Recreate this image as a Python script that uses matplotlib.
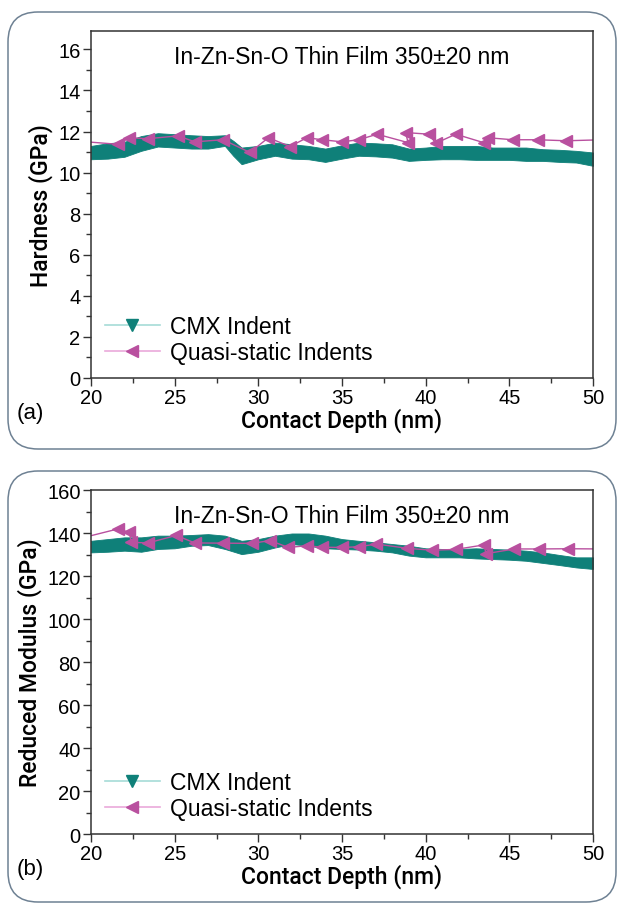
import matplotlib
matplotlib.use("Agg")
import matplotlib.pyplot as plt
from matplotlib.patches import FancyBboxPatch
from matplotlib.lines import Line2D
from matplotlib.ticker import MultipleLocator

plt.rcParams['font.family'] = ['Liberation Sans', 'DejaVu Sans']

# --- data ---
title = "In-Zn-Sn-O Thin Film 350\u00b120 nm"

# hardness, CMX band (upper / lower edge of the noisy trace)
h_cmx_x = [20, 21, 22, 23, 24, 25, 26, 27, 28, 28.5, 29, 30, 31, 32, 33, 34, 35,
           36, 37, 38, 39, 40, 41, 42, 43, 44, 45, 46, 47, 48, 49, 50]
h_cmx_hi = [11.30, 11.43, 11.50, 11.78, 11.92, 11.87, 11.82, 11.78, 11.82, 11.55, 11.22,
            11.30, 11.46, 11.38, 11.30, 11.17, 11.33, 11.46, 11.43, 11.38, 11.17, 11.22,
            11.30, 11.30, 11.30, 11.22, 11.22, 11.22, 11.14, 11.11, 11.06, 10.98]
h_cmx_lo = [10.65, 10.68, 10.77, 11.06, 11.27, 11.22, 11.17, 11.17, 11.30, 10.82, 10.41,
            10.65, 10.82, 10.68, 10.65, 10.52, 10.68, 10.82, 10.79, 10.73, 10.57, 10.62,
            10.65, 10.65, 10.62, 10.62, 10.62, 10.57, 10.57, 10.52, 10.49, 10.33]

# hardness, quasi-static indents
h_qs_x = [19.4, 21.6, 22.3, 23.4, 25.2, 26.2, 27.9, 29.5, 30.6, 31.9, 32.9, 33.8, 35.0,
          36.0, 37.1, 38.95, 38.8, 40.2, 40.6, 41.8, 43.5, 43.7, 45.2, 46.7, 48.4, 50.6]
h_qs_y = [11.52, 11.38, 11.70, 11.65, 11.79, 11.50, 11.60, 10.98, 11.70, 11.27, 11.70,
          11.60, 11.50, 11.60, 11.87, 11.46, 11.95, 11.87, 11.43, 11.87, 11.45, 11.70,
          11.60, 11.60, 11.55, 11.60]

# reduced modulus, CMX band
m_cmx_x = list(range(20, 51))
m_cmx_hi = [136.4, 137.2, 138.0, 138.0, 138.8, 138.8, 139.1, 139.5, 138.8, 136.4, 137.2,
            138.8, 139.8, 139.8, 138.8, 137.2, 136.4, 135.7, 134.9, 134.1, 132.9, 132.6,
            132.6, 132.9, 132.6, 132.3, 131.8, 131.0, 129.8, 128.7, 128.7]
m_cmx_lo = [131.0, 131.3, 131.8, 131.3, 132.6, 132.9, 134.1, 134.4, 132.6, 130.2, 131.3,
            133.3, 134.9, 134.1, 132.9, 132.6, 132.3, 131.8, 131.0, 129.5, 128.7, 128.7,
            128.7, 128.2, 127.9, 127.6, 127.1, 126.1, 125.1, 124.0, 123.3]

# reduced modulus, quasi-static indents
m_qs_x = [19.4, 21.6, 22.3, 22.4, 23.4, 25.1, 26.2, 27.9, 29.6, 30.7, 31.8, 32.9, 33.8,
          35.0, 36.0, 37.05, 38.9, 40.4, 41.8, 43.5, 43.6, 45.3, 46.8, 48.5, 50.6]
m_qs_y = [137.6, 141.9, 140.3, 135.7, 135.4, 138.9, 135.4, 135.3, 135.2, 136.5, 133.3,
          134.1, 133.4, 133.3, 133.6, 134.9, 132.9, 132.0, 132.4, 134.5, 130.4, 132.6,
          132.6, 132.7, 132.6]

teal = "#0f8079"
magenta = "#b9509f"
teal_light = "#a6dbd7"
pink_light = "#eaa9da"
frame = "#6e8193"
label_font = ['Roboto', 'DejaVu Sans']

fig = plt.figure(figsize=(6.17, 9.04), dpi=100)

# rounded panel frames (pixel coordinates)
for (x0, y0, w, h) in [(8, 454, 608, 437), (8, 1, 608, 431)]:
    box = FancyBboxPatch((x0, y0), w, h, boxstyle="round,pad=0,rounding_size=30",
                         transform=None, fill=False, edgecolor=frame, linewidth=1.1)
    fig.add_artist(box)

ax1 = fig.add_axes([0.1475, 0.5808, 0.8136, 0.3839])
ax2 = fig.add_axes([0.1475, 0.0763, 0.8136, 0.3805])

panels = [
    (ax1, h_cmx_x, h_cmx_lo, h_cmx_hi, h_qs_x, h_qs_y, (0, 16.9), 2, 1, "Hardness (GPa)", "(a)"),
    (ax2, m_cmx_x, m_cmx_lo, m_cmx_hi, m_qs_x, m_qs_y, (0, 160), 20, 10, "Reduced Modulus (GPa)", "(b)"),
]

for ax, cx, lo, hi, qx, qy, ylim, ymaj, ymin, ylab, tag in panels:
    ax.fill_between(cx, lo, hi, color=teal, linewidth=0.6, edgecolor=teal)
    ax.plot(qx, qy, color=magenta, linewidth=1.0, marker="<", markersize=8,
            markerfacecolor=magenta, markeredgecolor=magenta)
    ax.set_xlim(20, 50)
    ax.set_ylim(*ylim)
    ax.xaxis.set_major_locator(MultipleLocator(5))
    ax.xaxis.set_minor_locator(MultipleLocator(2.5))
    ax.yaxis.set_major_locator(MultipleLocator(ymaj))
    ax.yaxis.set_minor_locator(MultipleLocator(ymin))
    ax.tick_params(which="major", direction="out", length=6, width=1, labelsize=14.5,
                   color="#333333", pad=1.5)
    ax.tick_params(which="minor", direction="out", length=3.5, width=1, color="#333333")
    for s in ax.spines.values():
        s.set_color("#333333")
        s.set_linewidth(1.1)
    ax.set_xlabel("Contact Depth (nm)", fontsize=16.5, fontweight="medium",
                  family=label_font, labelpad=0)
    ax.set_ylabel(ylab, fontsize=16.5, fontweight="medium", family=label_font,
                  labelpad=4)
    ax.text(0.5, 0.925, title, transform=ax.transAxes, ha="center", va="center",
            fontsize=16.5)
    ax.text(-0.148, -0.1, tag, transform=ax.transAxes, ha="left", va="center",
            fontsize=16)

    handles = [
        Line2D([], [], color=teal_light, linewidth=1.2, marker="v", markersize=8,
               markerfacecolor=teal, markeredgecolor=teal),
        Line2D([], [], color=pink_light, linewidth=1.2, marker="<", markersize=8,
               markerfacecolor=magenta, markeredgecolor=magenta),
    ]
    ax.legend(handles, ["CMX Indent", "Quasi-static Indents"], loc="lower left",
              bbox_to_anchor=(0.0, 0.0), frameon=False, fontsize=16.5,
              handlelength=2.4, handletextpad=0.45, labelspacing=0.15,
              borderaxespad=0.2)

fig.savefig("out.png", dpi=100)
